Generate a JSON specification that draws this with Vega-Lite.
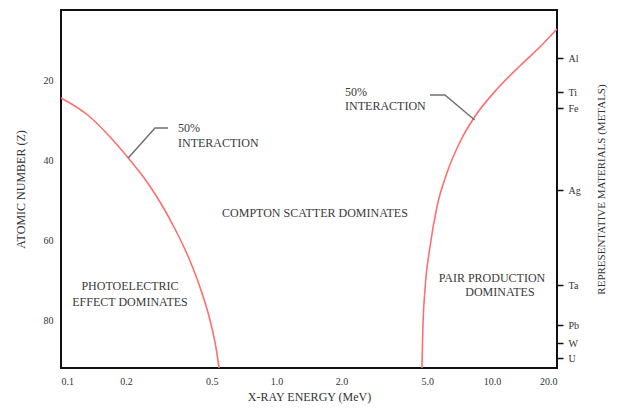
{
  "$schema": "https://vega.github.io/schema/vega-lite/v6.json",
  "autosize": {"type": "none"},
  "padding": {"left": 61, "top": 10, "right": 61, "bottom": 42},
  "width": 496,
  "height": 358,
  "background": "#ffffff",
  "config": {
    "view": {"stroke": "#111111", "strokeWidth": 2},
    "font": "Liberation Serif",
    "axis": {"grid": false, "domain": false, "labelFont": "Liberation Serif", "titleFont": "Liberation Serif", "labelColor": "#333333", "titleColor": "#333333", "titleFontWeight": "normal"}
  },
  "datasets": {
    "curves": [
      {"boundary": "photoelectric", "E": 0.1, "Z": 24.5},
      {"boundary": "photoelectric", "E": 0.133, "Z": 28.75},
      {"boundary": "photoelectric", "E": 0.169, "Z": 34.25},
      {"boundary": "photoelectric", "E": 0.205, "Z": 39.5},
      {"boundary": "photoelectric", "E": 0.245, "Z": 44.75},
      {"boundary": "photoelectric", "E": 0.288, "Z": 50.5},
      {"boundary": "photoelectric", "E": 0.338, "Z": 57.25},
      {"boundary": "photoelectric", "E": 0.388, "Z": 64.0},
      {"boundary": "photoelectric", "E": 0.441, "Z": 71.75},
      {"boundary": "photoelectric", "E": 0.491, "Z": 80.0},
      {"boundary": "photoelectric", "E": 0.524, "Z": 87.0},
      {"boundary": "photoelectric", "E": 0.541, "Z": 92.0},
      {"boundary": "pair", "E": 4.725, "Z": 92.0},
      {"boundary": "pair", "E": 4.775, "Z": 81.75},
      {"boundary": "pair", "E": 4.88, "Z": 72.5},
      {"boundary": "pair", "E": 5.15, "Z": 61.75},
      {"boundary": "pair", "E": 5.546, "Z": 51.75},
      {"boundary": "pair", "E": 6.17, "Z": 43.25},
      {"boundary": "pair", "E": 7.17, "Z": 35.0},
      {"boundary": "pair", "E": 8.23, "Z": 29.5},
      {"boundary": "pair", "E": 10.64, "Z": 22.0},
      {"boundary": "pair", "E": 13.6, "Z": 16.25},
      {"boundary": "pair", "E": 17.02, "Z": 11.25},
      {"boundary": "pair", "E": 20.0, "Z": 7.25}
    ],
    "leaders": [
      {"leader": "left", "E": 0.205, "Z": 39.5},
      {"leader": "left", "E": 0.273, "Z": 32.0},
      {"leader": "left", "E": 0.314, "Z": 32.0},
      {"leader": "right", "E": 5.15, "Z": 23.75},
      {"leader": "right", "E": 6.04, "Z": 23.75},
      {"leader": "right", "E": 8.3, "Z": 30.0}
    ],
    "leftTexts": [
      {"E": 0.349, "Z": 32.0, "label": "50%"},
      {"E": 0.349, "Z": 35.75, "label": "INTERACTION"},
      {"E": 2.08, "Z": 23.0, "label": "50%"},
      {"E": 2.08, "Z": 26.5, "label": "INTERACTION"}
    ],
    "centerTexts": [
      {"E": 1.507, "Z": 53.2, "label": "COMPTON SCATTER DOMINATES"},
      {"E": 0.209, "Z": 71.5, "label": "PHOTOELECTRIC"},
      {"E": 0.209, "Z": 75.4, "label": "EFFECT DOMINATES"},
      {"E": 9.98, "Z": 69.4, "label": "PAIR PRODUCTION"},
      {"E": 10.87, "Z": 72.9, "label": "DOMINATES"}
    ],
    "materials": [
      {"material": "Al", "Z": 14.5},
      {"material": "Ti", "Z": 23.0},
      {"material": "Fe", "Z": 27.0},
      {"material": "Ag", "Z": 47.5},
      {"material": "Ta", "Z": 71.25},
      {"material": "Pb", "Z": 81.25},
      {"material": "W", "Z": 85.75},
      {"material": "U", "Z": 89.5}
    ]
  },
  "resolve": {"axis": {"y": "independent"}},
  "layer": [
    {
      "data": {"name": "curves"},
      "mark": {"type": "line", "interpolate": "monotone", "color": "#ff6f6f", "strokeWidth": 1.6},
      "encoding": {
        "x": {"field": "E", "type": "quantitative",
          "scale": {"type": "log", "domain": [0.1, 20], "nice": false},
          "axis": {"values": [0.1, 0.2, 0.5, 1, 2, 5, 10, 20], "format": ".1f", "ticks": false, "labelPadding": 8, "labelFontSize": 10, "title": "X-RAY ENERGY (MeV)", "titleFontSize": 12, "titlePadding": 5}},
        "y": {"field": "Z", "type": "quantitative",
          "scale": {"domain": [2.5, 92], "reverse": true, "nice": false, "zero": false},
          "axis": {"orient": "left", "values": [20, 40, 60, 80], "ticks": false, "labelPadding": 8, "labelFontSize": 10, "title": "ATOMIC NUMBER (Z)", "titleFontSize": 12, "titlePadding": 16}},
        "detail": {"field": "boundary"}
      }
    },
    {
      "data": {"name": "leaders"},
      "mark": {"type": "line", "color": "#707070", "strokeWidth": 1.5},
      "encoding": {
        "x": {"field": "E", "type": "quantitative"},
        "y": {"field": "Z", "type": "quantitative", "axis": null},
        "detail": {"field": "leader"}
      }
    },
    {
      "data": {"name": "leftTexts"},
      "mark": {"type": "text", "align": "left", "baseline": "middle", "font": "Liberation Serif", "fontSize": 12, "color": "#3a3a3a"},
      "encoding": {
        "x": {"field": "E", "type": "quantitative"},
        "y": {"field": "Z", "type": "quantitative", "axis": null},
        "text": {"field": "label"}
      }
    },
    {
      "data": {"name": "centerTexts"},
      "mark": {"type": "text", "align": "center", "baseline": "middle", "font": "Liberation Serif", "fontSize": 12, "color": "#3a3a3a"},
      "encoding": {
        "x": {"field": "E", "type": "quantitative"},
        "y": {"field": "Z", "type": "quantitative", "axis": null},
        "text": {"field": "label"}
      }
    },
    {
      "data": {"name": "materials"},
      "mark": {"type": "point", "opacity": 0},
      "encoding": {
        "x": {"datum": 20, "type": "quantitative"},
        "y": {"field": "Z", "type": "quantitative",
          "axis": {"orient": "right", "values": [14.5, 23, 27, 47.5, 71.25, 81.25, 85.75, 89.5],
            "labelExpr": "{'14.5':'Al','23':'Ti','27':'Fe','47.5':'Ag','71.25':'Ta','81.25':'Pb','85.75':'W','89.5':'U'}[datum.value]",
            "ticks": true, "tickSize": 6, "tickColor": "#111111", "tickWidth": 1.5, "labelPadding": 5, "labelFontSize": 10,
            "title": "REPRESENTATIVE MATERIALS (METALS)", "titleAngle": 270, "titleFontSize": 11, "titlePadding": 26}}
      }
    }
  ]
}
